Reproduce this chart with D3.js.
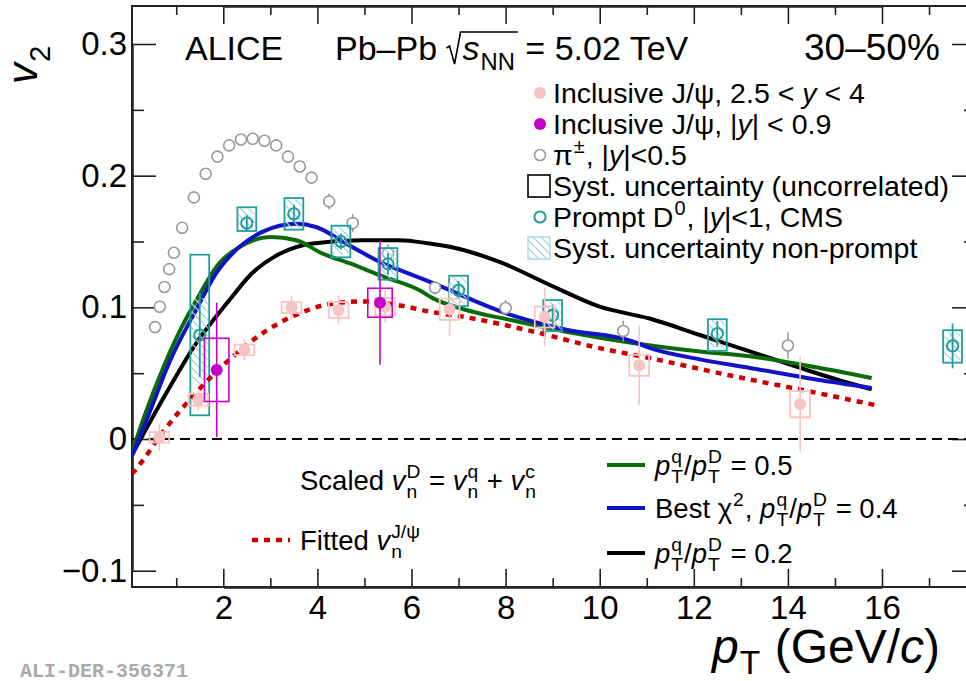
<!DOCTYPE html>
<html>
<head>
<meta charset="utf-8">
<script src="https://cdn.jsdelivr.net/npm/d3@7"></script>
<style>
  html, body { margin: 0; padding: 0; background: #fff; }
  svg { display: block; font-family: "Liberation Sans", Arial, sans-serif; }
  svg text { white-space: pre; }
</style>
</head>
<body>
<svg id="chart" width="966" height="681"></svg>
<script>
// ---- data ----
// charged pions, |y|<0.5
const ptPion  = [0.55, 0.65, 0.75, 0.85, 0.95, 1.125, 1.375, 1.625, 1.875, 2.125, 2.375, 2.625, 2.875, 3.125, 3.375, 3.625, 3.875, 4.25, 4.75, 5.5, 6.5, 8, 10.5, 14];
const v2Pion  = [0.085, 0.1005, 0.1155, 0.129, 0.1415, 0.1605, 0.1835, 0.2015, 0.2145, 0.223, 0.2275, 0.228, 0.2265, 0.223, 0.2145, 0.207, 0.1985, 0.1805, 0.164, 0.141, 0.115, 0.0995, 0.082, 0.071];
const errPion = [0.001, 0.001, 0.001, 0.001, 0.001, 0.001, 0.001, 0.001, 0.001, 0.001, 0.001, 0.001, 0.002, 0.002, 0.002, 0.003, 0.004, 0.006, 0.007, 0.007, 0.005, 0.006, 0.008, 0.01];

// prompt D0, CMS
const ptD0    = [1.5, 2.5, 3.5, 4.5, 5.5, 7, 9, 12.5, 17.5];
const v2D0    = [0.079, 0.164, 0.171, 0.150, 0.133, 0.113, 0.094, 0.080, 0.0707];
const statD0  = [0.032, 0.006, 0.007, 0.006, 0.008, 0.007, 0.008, 0.0097, 0.017];
const systLoD0 = [0.018, 0.158, 0.159, 0.138, 0.121, 0.101, 0.082, 0.067, 0.058];
const systHiD0 = [0.140, 0.176, 0.183, 0.162, 0.145, 0.124, 0.1055, 0.091, 0.0826];
const npLoD0  = [0.042, 0.160, 0.160, 0.140, 0.122, 0.103, 0.083, 0.069, 0.060];
const npHiD0  = [0.107, 0.175, 0.182, 0.161, 0.144, 0.123, 0.104, 0.090, 0.081];

// inclusive J/psi, 2.5 < y < 4
const ptJpsiFwd   = [0.64, 1.47, 2.45, 3.45, 4.45, 5.44, 6.81, 8.83, 10.84, 14.26];
const v2JpsiFwd   = [0.0013, 0.0298, 0.0677, 0.0998, 0.098, 0.1005, 0.0985, 0.0927, 0.056, 0.0265];
const statJpsiFwd = [0.01, 0.008, 0.008, 0.009, 0.011, 0.012, 0.02, 0.022, 0.03, 0.036];
const systJpsiFwd = [0.004, 0.0045, 0.004, 0.0042, 0.006, 0.0066, 0.008, 0.008, 0.008, 0.01];

// inclusive J/psi, |y| < 0.9
const ptJpsiMid   = [1.86, 5.33];
const v2JpsiMid   = [0.0525, 0.1035];
const statJpsiMid = [0.051, 0.047];
const systJpsiMid = [0.024, 0.011];

// model curves [pT, v2]
const curveQ05 = [[0.06,-0.010],[0.35,0.020],[0.71,0.053],[1.06,0.081],[1.42,0.105],[1.9,0.133],[2.4,0.147],[3.0,0.1535],[3.55,0.151],[4.1,0.141],[4.68,0.1335],[5.39,0.1235],[6.17,0.113],[6.45,0.107],[7.16,0.098],[8.09,0.0905],[9.29,0.0815],[10.7,0.073],[12.13,0.0665],[13.19,0.0628],[14.6,0.0545],[15.78,0.0463]];
const curveQ04 = [[0.06,-0.013],[0.43,0.020],[0.85,0.058],[1.42,0.098],[1.84,0.1255],[2.13,0.1385],[2.84,0.1575],[3.55,0.1635],[3.97,0.161],[4.61,0.1485],[5.39,0.1335],[5.74,0.1285],[6.38,0.1195],[8.09,0.0945],[9.29,0.083],[10.7,0.0742],[11.06,0.0692],[12.13,0.0605],[13.19,0.054],[14.6,0.0452],[15.78,0.0388]];
const curveQ02 = [[0.06,-0.012],[0.71,0.030],[1.42,0.0725],[2.13,0.1055],[2.6,0.1255],[3.19,0.1405],[3.9,0.1485],[4.96,0.151],[5.74,0.151],[6.38,0.1485],[6.81,0.146],[7.87,0.1345],[8.94,0.117],[10,0.1005],[11.06,0.0915],[12.13,0.079],[13.19,0.0665],[14.26,0.054],[15.04,0.0452],[15.78,0.0377]];
const curveFit = [[0.06,-0.0265],[0.21,-0.020],[0.71,0.005],[1.42,0.0352],[2.13,0.0603],[2.84,0.0805],[3.55,0.0944],[4.26,0.1025],[4.96,0.1045],[5.67,0.102],[6.38,0.0968],[7.16,0.0925],[8.58,0.0817],[10,0.069],[11.06,0.0615],[12.13,0.0532],[13.19,0.0452],[14.26,0.0376],[15.96,0.025]];

const xMajor = [2, 4, 6, 8, 10, 12, 14, 16, 18];
const xMinor = [1, 3, 5, 7, 9, 11, 13, 15, 17];
const yMajor = [-0.1, 0, 0.1, 0.2, 0.3];
const yMinor = [-0.05, 0.05, 0.15, 0.25];

// ---- layout ----
const svg = d3.select('#chart');
const frame = { left: 132, right: 976, top: 6, bottom: 587 };

const x = d3.scaleLinear().domain([2, 16]).range([223.3, 882]);
const y = d3.scaleLinear().domain([-0.1, 0.3]).range([570.7, 44]);

const colTeal = '#1f9e9e', colPink = '#f7c3c3', colMag = '#c800c8', colGrey = '#9a9a9a';
const colGreen = '#0b6b0b', colBlue = '#1212c8', colRed = '#cc0000';

// hatch for the non-prompt systematics
const defs = svg.append('defs');
defs.append('pattern').attr('id', 'hatch').attr('patternUnits', 'userSpaceOnUse')
    .attr('width', 8).attr('height', 8)
  .append('path').attr('d', 'M0,0L8,8M-2,6L2,10M6,-2L10,2')
    .attr('stroke', '#a6d9d9').attr('stroke-width', 1.3);

const clip = defs.append('clipPath').attr('id', 'plotclip');
clip.append('rect').attr('x', frame.left).attr('y', frame.top)
    .attr('width', frame.right - frame.left).attr('height', frame.bottom - frame.top);

// rich text: base runs, and stacked sub/superscripts
function richText(parent, x0, y0, segs, size, fill) {
  const g = parent.append('g').attr('fill', fill || '#000');
  let cx = x0;
  segs.forEach(s => {
    if (typeof s === 'string') s = { t: s };
    if (s.t !== undefined) {
      const el = g.append('text').attr('x', cx).attr('y', y0).attr('font-size', size)
        .attr('font-style', s.it ? 'italic' : 'normal').text(s.t);
      cx += el.node().getComputedTextLength();
    } else {
      const ss = size * 0.7;
      let w = 0;
      if (s.sup !== undefined) {
        const el = g.append('text').attr('x', cx + 1).attr('y', y0 - size * 0.42).attr('font-size', ss).text(s.sup);
        w = Math.max(w, el.node().getComputedTextLength() + 2);
      }
      if (s.sub !== undefined) {
        const el = g.append('text').attr('x', cx + 1).attr('y', y0 + size * (s.subShift || 0.3)).attr('font-size', ss).text(s.sub);
        w = Math.max(w, el.node().getComputedTextLength() + 2);
      }
      cx += w;
    }
  });
  return { g: g, w: cx - x0 };
}

// ---- axes / frame ----
function styleAxis(g) {
  g.select('.domain').attr('stroke', '#222').attr('stroke-width', 2);
  g.selectAll('.tick line').attr('stroke', '#222').attr('stroke-width', 1.6);
  g.selectAll('.tick text').attr('font-family', '"Liberation Sans", Arial, sans-serif')
    .attr('font-size', 33).attr('fill', '#000');
}
const fmtY = d => d < 0 ? '\u2212' + Math.abs(d) : (d === 0 ? '0' : d3.format('.1f')(d));
const fmtX = d => d > 16 ? '' : d3.format('d')(d);

svg.append('g').attr('transform', `translate(0,${frame.bottom})`)
  .call(d3.axisBottom(x).tickValues(xMajor).tickSize(-18).tickSizeOuter(0).tickPadding(9).tickFormat(fmtX))
  .call(styleAxis);
svg.append('g').attr('transform', `translate(0,${frame.bottom})`)
  .call(d3.axisBottom(x).tickValues(xMinor).tickSize(-9).tickSizeOuter(0).tickFormat(''))
  .call(styleAxis);
svg.append('g').attr('transform', `translate(0,${frame.top})`)
  .call(d3.axisTop(x).tickValues(xMajor).tickSize(-18).tickSizeOuter(0).tickFormat(''))
  .call(styleAxis);
svg.append('g').attr('transform', `translate(0,${frame.top})`)
  .call(d3.axisTop(x).tickValues(xMinor).tickSize(-9).tickSizeOuter(0).tickFormat(''))
  .call(styleAxis);
svg.append('g').attr('transform', `translate(${frame.left},0)`)
  .call(d3.axisLeft(y).tickValues(yMajor).tickSize(-24).tickSizeOuter(0).tickPadding(5).tickFormat(fmtY))
  .call(styleAxis);
svg.append('g').attr('transform', `translate(${frame.left},0)`)
  .call(d3.axisLeft(y).tickValues(yMinor).tickSize(-12).tickSizeOuter(0).tickFormat(''))
  .call(styleAxis);
svg.append('g').attr('transform', `translate(${frame.right},0)`)
  .call(d3.axisRight(y).tickValues(yMajor).tickSize(-24).tickSizeOuter(0).tickFormat(''))
  .call(styleAxis);
svg.append('g').attr('transform', `translate(${frame.right},0)`)
  .call(d3.axisRight(y).tickValues(yMinor).tickSize(-12).tickSizeOuter(0).tickFormat(''))
  .call(styleAxis);
svg.append('rect').attr('x', frame.left).attr('y', frame.top)
  .attr('width', frame.right - frame.left).attr('height', frame.bottom - frame.top)
  .attr('fill', 'none').attr('stroke', '#222').attr('stroke-width', 2);

const plot = svg.append('g').attr('clip-path', 'url(#plotclip)');

// zero line
plot.append('line').attr('x1', frame.left).attr('x2', frame.right)
  .attr('y1', y(0)).attr('y2', y(0))
  .attr('stroke', '#000').attr('stroke-width', 2).attr('stroke-dasharray', '10,6');

// ---- model curves ----
const line = d3.line().x(d => x(d[0])).y(d => y(d[1])).curve(d3.curveMonotoneX);
[[curveQ02, '#000'], [curveQ05, colGreen], [curveQ04, colBlue]].forEach(([c, col]) => {
  plot.append('path').attr('d', line(c)).attr('fill', 'none')
    .attr('stroke', col).attr('stroke-width', 4);
});

// ---- pions ----
const pion = plot.append('g');
pion.selectAll('line').data(ptPion).join('line')
  .attr('x1', d => x(d)).attr('x2', d => x(d))
  .attr('y1', (d, i) => y(v2Pion[i] + errPion[i])).attr('y2', (d, i) => y(v2Pion[i] - errPion[i]))
  .attr('stroke', colGrey).attr('stroke-width', 1.5);
pion.selectAll('circle').data(ptPion).join('circle')
  .attr('cx', d => x(d)).attr('cy', (d, i) => y(v2Pion[i])).attr('r', 5.5)
  .attr('fill', '#fff').attr('stroke', colGrey).attr('stroke-width', 1.6);

// ---- D0 ----
const d0 = plot.append('g');
const bwD0 = 0.2, bwNp = 0.17;
d0.selectAll('rect.np').data(ptD0).join('rect').attr('class', 'np')
  .attr('x', d => x(d - bwNp)).attr('width', d => x(d + bwNp) - x(d - bwNp))
  .attr('y', (d, i) => y(npHiD0[i])).attr('height', (d, i) => y(npLoD0[i]) - y(npHiD0[i]))
  .attr('fill', 'url(#hatch)');
d0.selectAll('rect.sys').data(ptD0).join('rect').attr('class', 'sys')
  .attr('x', d => x(d - bwD0)).attr('width', d => x(d + bwD0) - x(d - bwD0))
  .attr('y', (d, i) => y(systHiD0[i])).attr('height', (d, i) => y(systLoD0[i]) - y(systHiD0[i]))
  .attr('fill', 'none').attr('stroke', colTeal).attr('stroke-width', 1.8);
d0.selectAll('line').data(ptD0).join('line')
  .attr('x1', d => x(d)).attr('x2', d => x(d))
  .attr('y1', (d, i) => y(v2D0[i] + statD0[i])).attr('y2', (d, i) => y(v2D0[i] - statD0[i]))
  .attr('stroke', colTeal).attr('stroke-width', 1.8);
d0.selectAll('circle').data(ptD0).join('circle')
  .attr('cx', d => x(d)).attr('cy', (d, i) => y(v2D0[i])).attr('r', 5.6)
  .attr('fill', 'none').attr('stroke', colTeal).attr('stroke-width', 2);

// ---- fitted J/psi v2 ----
plot.append('path').attr('d', line(curveFit)).attr('fill', 'none')
  .attr('stroke', colRed).attr('stroke-width', 4.5).attr('stroke-dasharray', '6,6');

// ---- J/psi forward ----
const jf = plot.append('g');
const bwJf = 0.21;
jf.selectAll('line').data(ptJpsiFwd).join('line')
  .attr('x1', d => x(d)).attr('x2', d => x(d))
  .attr('y1', (d, i) => y(v2JpsiFwd[i] + statJpsiFwd[i])).attr('y2', (d, i) => y(v2JpsiFwd[i] - statJpsiFwd[i]))
  .attr('stroke', colPink).attr('stroke-width', 1.6);
jf.selectAll('rect').data(ptJpsiFwd).join('rect')
  .attr('x', d => x(d - bwJf)).attr('width', d => x(d + bwJf) - x(d - bwJf))
  .attr('y', (d, i) => y(v2JpsiFwd[i] + systJpsiFwd[i])).attr('height', (d, i) => y(v2JpsiFwd[i] - systJpsiFwd[i]) - y(v2JpsiFwd[i] + systJpsiFwd[i]))
  .attr('fill', 'none').attr('stroke', colPink).attr('stroke-width', 1.8);
jf.selectAll('circle').data(ptJpsiFwd).join('circle')
  .attr('cx', d => x(d)).attr('cy', (d, i) => y(v2JpsiFwd[i])).attr('r', 6)
  .attr('fill', colPink);

// ---- J/psi mid ----
const jm = plot.append('g');
const bwJm = 0.26;
jm.selectAll('line').data(ptJpsiMid).join('line')
  .attr('x1', d => x(d)).attr('x2', d => x(d))
  .attr('y1', (d, i) => y(v2JpsiMid[i] + statJpsiMid[i])).attr('y2', (d, i) => y(v2JpsiMid[i] - statJpsiMid[i]))
  .attr('stroke', colMag).attr('stroke-width', 1.6);
jm.selectAll('rect').data(ptJpsiMid).join('rect')
  .attr('x', d => x(d - bwJm)).attr('width', d => x(d + bwJm) - x(d - bwJm))
  .attr('y', (d, i) => y(v2JpsiMid[i] + systJpsiMid[i])).attr('height', (d, i) => y(v2JpsiMid[i] - systJpsiMid[i]) - y(v2JpsiMid[i] + systJpsiMid[i]))
  .attr('fill', 'none').attr('stroke', colMag).attr('stroke-width', 1.6);
jm.selectAll('circle').data(ptJpsiMid).join('circle')
  .attr('cx', d => x(d)).attr('cy', (d, i) => y(v2JpsiMid[i])).attr('r', 6)
  .attr('fill', colMag);

// ---- header ----
richText(svg, 185, 60, ['ALICE'], 34);
const pb = richText(svg, 335, 60, ['Pb\u2013Pb '], 34);
const sx = 335 + pb.w;
const sq = richText(svg, sx + 16, 60, [{ t: 's', it: true }, { sub: 'NN' }], 34);
svg.append('path')
  .attr('d', `M${sx},${60 - 12}L${sx + 3},${60 - 14}L${sx + 8},${60 + 4}L${sx + 14},${60 - 28}H${sx + 16 + sq.w + 2}`)
  .attr('fill', 'none').attr('stroke', '#000').attr('stroke-width', 1.6);
richText(svg, sx + 16 + sq.w, 60, [' = 5.02 TeV'], 34);
richText(svg, 804, 60, ['30\u201350%'], 37);

// ---- top legend ----
const lgX = 553, lgFs = 28.5;
const lgRows = [103, 134, 165, 196, 227, 258];
svg.append('circle').attr('cx', 540).attr('cy', lgRows[0] - 10).attr('r', 6).attr('fill', colPink);
richText(svg, lgX, lgRows[0], ['Inclusive J/\u03C8, 2.5 < ', { t: 'y', it: true }, ' < 4'], lgFs);
svg.append('circle').attr('cx', 540).attr('cy', lgRows[1] - 10).attr('r', 6).attr('fill', colMag);
richText(svg, lgX, lgRows[1], ['Inclusive J/\u03C8, |', { t: 'y', it: true }, '| < 0.9'], lgFs);
svg.append('circle').attr('cx', 540).attr('cy', lgRows[2] - 10).attr('r', 5.5)
  .attr('fill', 'none').attr('stroke', colGrey).attr('stroke-width', 1.6);
richText(svg, lgX, lgRows[2], ['\u03C0', { sup: '\u00B1' }, ', |', { t: 'y', it: true }, '|<0.5'], lgFs);
svg.append('rect').attr('x', 528).attr('y', lgRows[3] - 21).attr('width', 22).attr('height', 22)
  .attr('fill', 'none').attr('stroke', '#000').attr('stroke-width', 1.6);
richText(svg, lgX, lgRows[3], ['Syst. uncertainty (uncorrelated)'], lgFs);
svg.append('circle').attr('cx', 540).attr('cy', lgRows[4] - 10).attr('r', 5.6)
  .attr('fill', 'none').attr('stroke', colTeal).attr('stroke-width', 2);
richText(svg, lgX, lgRows[4], ['Prompt D', { sup: '0' }, ', |', { t: 'y', it: true }, '|<1, CMS'], lgFs);
svg.append('rect').attr('x', 528).attr('y', lgRows[5] - 21).attr('width', 22).attr('height', 22)
  .attr('fill', 'url(#hatch)').attr('stroke', '#a6d9d9').attr('stroke-width', 1.4);
richText(svg, lgX, lgRows[5], ['Syst. uncertainty non-prompt'], lgFs);

// ---- bottom legends ----
const blFs = 27.5;
richText(svg, 300, 490, ['Scaled ', { t: 'v', it: true }, { sub: 'n', sup: 'D' }, ' = ',
  { t: 'v', it: true }, { sub: 'n', sup: 'q' }, ' + ', { t: 'v', it: true }, { sub: 'n', sup: 'c' }], blFs);
svg.append('line').attr('x1', 252).attr('x2', 290).attr('y1', 540).attr('y2', 540)
  .attr('stroke', colRed).attr('stroke-width', 4.5).attr('stroke-dasharray', '6,6');
richText(svg, 300, 550, ['Fitted ', { t: 'v', it: true }, { sub: 'n', sup: 'J/\u03C8' }], blFs);

const ratio = [{ t: 'p', it: true }, { sub: 'T', sup: 'q' }, '/', { t: 'p', it: true }, { sub: 'T', sup: 'D' }];
[[465, colGreen, ratio.concat([' = 0.5'])],
 [508, colBlue, ['Best \u03C7', { sup: '2' }, ', '].concat(ratio, [' = 0.4'])],
 [553, '#000', ratio.concat([' = 0.2'])]].forEach(([yy, col, segs]) => {
  svg.append('line').attr('x1', 607).attr('x2', 645).attr('y1', yy).attr('y2', yy)
    .attr('stroke', col).attr('stroke-width', 4);
  richText(svg, 655, yy + 10, segs, blFs);
});

// ---- axis titles ----
const yt = svg.append('g').attr('transform', 'translate(37,84) rotate(-90)');
richText(yt, 0, 0, [{ t: 'v', it: true }, { sub: '2' }], 42);
const xt = richText(svg, 0, 663, [{ t: 'p', it: true }, { sub: 'T', subShift: 0.22 }, ' (GeV/', { t: 'c', it: true }, ')'], 48);
xt.g.attr('transform', `translate(${940 - xt.w},0)`);

// ---- figure id ----
svg.append('text').attr('x', 20).attr('y', 677)
  .attr('font-family', '"Liberation Mono", "DejaVu Sans Mono", monospace')
  .attr('font-weight', 'bold').attr('font-size', 20).attr('fill', '#aaa')
  .text('ALI-DER-356371');
</script>
</body>
</html>
